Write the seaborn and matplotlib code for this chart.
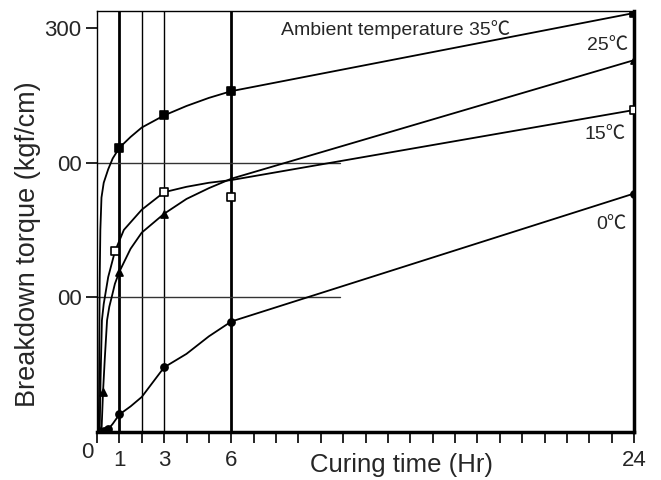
import matplotlib
matplotlib.use("Agg")
import matplotlib.pyplot as plt
import pandas as pd
import seaborn as sns

# curing time (Hr) and breakdown torque (kgf/cm)
t35 = [0.08, 0.1, 0.12, 0.15, 0.2, 0.3, 0.5, 0.7, 1, 1.5, 2, 3, 4, 5, 6, 24]
v35 = [0, 60, 112, 150, 174, 185, 195, 203, 211, 219, 226, 235, 242, 248, 253, 311]
t25 = [0.2, 0.27, 0.35, 0.45, 0.55, 0.67, 0.8, 1, 1.5, 2, 3, 4, 5, 6, 24]
v25 = [0, 30, 55, 83, 93, 101, 110, 119, 136, 148, 162, 173, 181, 188, 276]
t15 = [0.12, 0.16, 0.22, 0.3, 0.36, 0.5, 0.8, 1.2, 2, 3, 4, 5, 6, 24]
v15 = [0, 40, 83, 95, 101, 115, 134, 150, 165, 178, 182, 185, 187, 239]
t0 = [0.1, 0.2, 0.3, 0.5, 0.7, 1, 1.5, 2, 2.5, 3, 4, 5, 6, 24]
v0 = [4, 1, 0, 2, 6, 13, 19, 26, 37, 48, 58, 71, 82, 177]

# marked measurement points
m35_t = [1, 3, 6, 24]
m35_v = [211, 235, 253, 311]
m25_t = [0.27, 1, 3, 24]
m25_v = [30, 119, 162, 276]
m15_t = [0.8, 3, 6, 24]
m15_v = [134, 178, 174.5, 239]
m0_t = [0.3, 0.5, 1, 3, 6, 24]
m0_v = [1, 2, 13, 48, 82, 177]

xtick_pos = [1, 3, 6, 24]
xtick_lab = ["1", "3", "6", "24"]
ytick_pos = [100, 200, 300]
ytick_lab = ["00", "00", "300"]

sns.set_theme(style="ticks")
plt.rcParams["font.family"] = ["Liberation Sans", "DejaVu Sans"]

fig = plt.figure(figsize=(6.61, 4.80), dpi=100)
ax = fig.add_axes([97 / 661, 1 - 432 / 480, 537 / 661, 421 / 480])

# guide lines
for xv, lw in [(1, 2.0), (2, 1.0), (3, 1.0), (6, 2.0)]:
    ax.axvline(xv, color="black", lw=lw, zorder=1)
for yv in [100, 200]:
    ax.plot([0, 10.85], [yv, yv], color="#333333", lw=1.0, zorder=1)

curves = [("35", t35, v35), ("25", t25, v25), ("15", t15, v15), ("0", t0, v0)]
for name, t, v in curves:
    df = pd.DataFrame({"t": t, "v": v})
    sns.lineplot(data=df, x="t", y="v", sort=False, estimator=None,
                 color="black", lw=1.3, ax=ax, zorder=3)

marks = [(m35_t, m35_v, "s", "black"), (m25_t, m25_v, "^", "black"),
         (m15_t, m15_v, "s", "white"), (m0_t, m0_v, "o", "black")]
for t, v, mk, fc in marks:
    df = pd.DataFrame({"t": t, "v": v})
    sns.scatterplot(data=df, x="t", y="v", marker=mk, s=26, color=fc,
                    edgecolor="black", linewidth=1.2, ax=ax, zorder=4)

ax.set_xlim(0, 24)
ax.set_ylim(0, 312.5)
ax.set_xticks(range(0, 25), minor=True)
ax.set_xticks(xtick_pos)
ax.set_xticklabels(xtick_lab)
ax.set_yticks(ytick_pos)
ax.set_yticklabels(ytick_lab)
ax.tick_params(axis="x", which="both", direction="out", length=8, width=1.2,
               color="black", labelsize=16, pad=5)
ax.tick_params(axis="y", direction="out", length=8, width=1.2,
               color="black", labelsize=16, pad=3)
ax.set_xlabel("")
ax.set_ylabel("")

for side, lw in [("left", 1.0), ("top", 1.0), ("bottom", 2.5), ("right", 2.5)]:
    ax.spines[side].set_visible(True)
    ax.spines[side].set_linewidth(lw)
    ax.spines[side].set_color("black")

fig.text(28 / 661, 1 - 244 / 480, "Breakdown torque (kgf/cm)", rotation=90,
         ha="center", va="center", fontsize=19.5)
fig.text(402 / 661, 1 - 465 / 480, "Curing time (Hr)", ha="center",
         va="center", fontsize=18.5)
ax.text(-0.45, -15, "0", ha="center", va="center", fontsize=16, clip_on=False)

lab_font = ["Liberation Sans", "Noto Sans CJK JP"]
ax.text(13.36, 298.5, "Ambient temperature 35\u2103", ha="center", va="center",
        fontsize=14, family=lab_font)
ax.text(22.8, 287, "25\u2103", ha="center", va="center", fontsize=14, family=lab_font)
ax.text(22.7, 220.5, "15\u2103", ha="center", va="center", fontsize=14, family=lab_font)
ax.text(23.0, 153.7, "0\u2103", ha="center", va="center", fontsize=14, family=lab_font)

fig.savefig("out.png", dpi=100)
